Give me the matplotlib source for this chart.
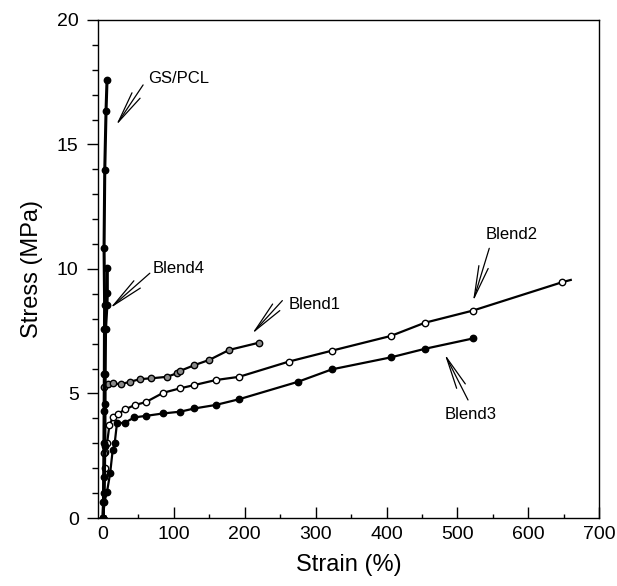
import matplotlib
matplotlib.use("Agg")
import matplotlib.pyplot as plt
from matplotlib.ticker import MultipleLocator

plt.rcParams['font.family'] = ['Liberation Sans', 'DejaVu Sans']

# stress-strain curves
gs_x = [0, 0.5, 1.0, 1.2, 1.5, 1.8, 2.0, 2.2, 1.4, 2.4, 4.2, 5.6]
gs_y = [0, 0.65, 1.66, 3.0, 4.3, 5.77, 7.58, 8.55, 10.83, 13.98, 16.36, 17.6]

b4_x = [0, 1.5, 2.5, 2.8, 3.0, 3.5, 5.5, 6.0, 6.0]
b4_y = [0, 1.0, 2.9, 4.58, 5.8, 7.6, 8.55, 9.05, 10.03]

b1_x = [0, 1.5, 2.0, 7, 14.5, 24.8, 37.9, 52.8, 68.3, 90.2, 104, 108, 129, 150, 178, 220]
b1_y = [0, 2.6, 5.27, 5.37, 5.41, 5.37, 5.47, 5.58, 5.61, 5.67, 5.81, 5.9, 6.14, 6.35, 6.75, 7.04]

b2_x = [0, 2.4, 2.4, 5.6, 9, 14, 21, 31, 45, 60, 85, 109, 129, 159, 192, 262, 323, 406, 454, 522, 648]
b2_y = [0, 2.0, 2.64, 3.0, 3.73, 4.05, 4.18, 4.36, 4.54, 4.65, 5.03, 5.21, 5.34, 5.54, 5.67,
        6.28, 6.72, 7.31, 7.84, 8.33, 9.47]
b2_end = (660, 9.56)  # line runs on a bit past the last marker

b3_x = [0, 2, 5.6, 10, 13.6, 16.4, 19.6, 31, 44, 60, 85, 109, 129, 159, 192, 275, 323, 406, 455, 522]
b3_y = [0, 0.65, 1.06, 1.8, 2.73, 3.0, 3.8, 3.83, 4.04, 4.1, 4.2, 4.27, 4.4, 4.54, 4.77,
        5.47, 5.97, 6.45, 6.8, 7.21]

fig = plt.figure(figsize=(6.17, 5.86), dpi=100)
ax = fig.add_axes([0.159, 0.116, 0.812, 0.850])

ms = 4.6
ax.plot(b3_x, b3_y, '-o', color='black', lw=1.6, ms=ms, mfc='black', mec='black')
ax.plot(b2_x + [b2_end[0]], b2_y + [b2_end[1]], '-o', color='black', lw=1.6, ms=ms,
        mfc='white', mec='black', markevery=list(range(len(b2_x))))
ax.plot(b1_x, b1_y, '-o', color='black', lw=1.6, ms=ms, mfc='#8a8a8a', mec='black')
ax.plot(b4_x, b4_y, '-o', color='black', lw=2.2, ms=ms, mfc='black', mec='black')
ax.plot(gs_x, gs_y, '-o', color='black', lw=2.2, ms=ms, mfc='black', mec='black')

# labels with open arrow heads
labels = [
    ("GS/PCL", (63, 17.63), (56.5, 17.39), (18.2, 15.76)),
    ("Blend4", (70, 10.02), (66, 9.83), (9.8, 8.42)),
    ("Blend1", (262, 8.59), (253, 8.73), (210, 7.39)),
    ("Blend2", (540, 11.4), (545, 10.83), (522, 8.69)),
    ("Blend3", (482, 4.14), (515, 4.74), (482, 6.59)),
]
for name, txt, start, tip in labels:
    ax.text(txt[0], txt[1], name, fontsize=12, ha='left', va='center')
    ax.annotate('', xy=tip, xytext=start,
                arrowprops=dict(arrowstyle='->,head_length=2.3,head_width=0.35',
                                color='black', lw=0.9, shrinkA=0, shrinkB=0))

ax.set_xlim(-7, 700)
ax.set_ylim(0, 20)
ax.xaxis.set_major_locator(MultipleLocator(100))
ax.xaxis.set_minor_locator(MultipleLocator(50))
ax.yaxis.set_major_locator(MultipleLocator(5))
ax.yaxis.set_minor_locator(MultipleLocator(1))
ax.tick_params(axis='x', which='major', direction='in', length=8, width=1, labelsize=14, pad=6)
ax.tick_params(axis='x', which='minor', direction='in', length=3, width=1)
ax.tick_params(axis='y', which='major', direction='out', length=8, width=1, labelsize=14, pad=6)
ax.tick_params(axis='y', which='minor', direction='out', length=4, width=1)

for s in ax.spines.values():
    s.set_linewidth(1)

ax.set_xlabel("Strain (%)", fontsize=17, labelpad=8)
ax.set_ylabel("Stress (MPa)", fontsize=17, labelpad=10)

fig.savefig("out.png", dpi=100)
